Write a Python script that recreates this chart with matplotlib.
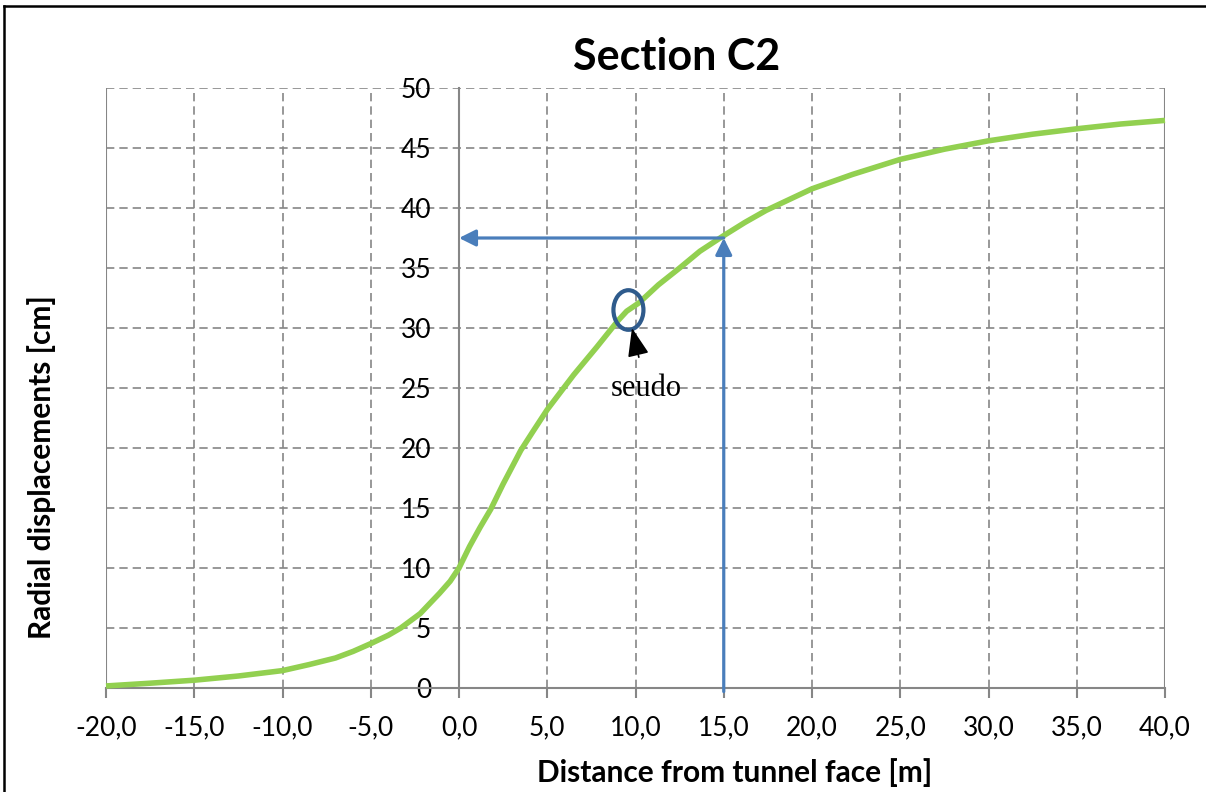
import matplotlib
matplotlib.use('Agg')
import matplotlib.pyplot as plt
from matplotlib.patches import Ellipse
from matplotlib.lines import Line2D

# curve
dist = [-20, -17.5, -15, -12.5, -10, -8.5, -7, -6, -5, -4, -3.3, -2.2, -1.1, -0.5, 0,
        0.6, 1.2, 1.8, 2.5, 3.5, 4.2, 5.0, 6.5, 7.8, 9.0, 9.5, 10.2, 11.3, 12.5,
        13.65, 15, 16.2, 17.4, 18.7, 20, 22.3, 25, 27.5, 30, 32.5, 35, 37.5, 40]
disp = [0.17, 0.4, 0.65, 1.0, 1.45, 1.95, 2.5, 3.05, 3.7, 4.4, 5.0, 6.2, 7.9, 8.9, 10.0,
        11.8, 13.4, 14.9, 17.0, 19.8, 21.4, 23.2, 26.1, 28.4, 30.6, 31.4, 32.1, 33.6, 35.0,
        36.4, 37.7, 38.8, 39.8, 40.7, 41.6, 42.8, 44.05, 44.9, 45.6, 46.15, 46.6, 47.0, 47.3]

x_ticks = [-20, -15, -10, -5, 0, 5, 10, 15, 20, 25, 30, 35, 40]
x_labels = ['-20,0', '-15,0', '-10,0', '-5,0', '0,0', '5,0', '10,0', '15,0',
            '20,0', '25,0', '30,0', '35,0', '40,0']
y_ticks = [0, 5, 10, 15, 20, 25, 30, 35, 40, 45, 50]

x_read = 15
y_read = 37.5
pseudo_x = 9.6
pseudo_y = 31.5

plt.rcParams['font.family'] = ['Lato', 'DejaVu Sans']
grey = '#868686'
blue = '#4a7ebb'

fig = plt.figure(figsize=(12.06, 7.92), dpi=100)
ax = fig.add_axes([106/1206, 1-688/792, (1165-106)/1206, 600/792])
ax.set_xlim(-20, 40)
ax.set_ylim(0, 50)

ax.plot(dist, disp, color='#92d050', lw=4, solid_capstyle='butt',
        solid_joinstyle='round', zorder=3, clip_on=False)

# reading arrows
ax.annotate('', xy=(x_read, y_read), xytext=(x_read, -0.3),
            arrowprops=dict(arrowstyle='-|>,head_length=1.0,head_width=0.5',
                            color=blue, lw=2.3, shrinkA=0, shrinkB=0), zorder=4)
ax.annotate('', xy=(0, y_read), xytext=(x_read, y_read),
            arrowprops=dict(arrowstyle='-|>,head_length=1.0,head_width=0.5',
                            color=blue, lw=2.3, shrinkA=0, shrinkB=0), zorder=4)

ax.add_patch(Ellipse((pseudo_x, pseudo_y), 1.7, 3.3, fill=False,
                     edgecolor='#2f5b8c', lw=3, zorder=5))
ax.annotate('seudo', xy=(9.8, 30.0), xytext=(10.6, 25.0),
            ha='center', va='center', fontsize=22, family='Liberation Serif',
            arrowprops=dict(arrowstyle='-|>,head_length=0.8,head_width=0.3',
                            color='black', lw=1.2, shrinkA=10, shrinkB=0), zorder=6)

# axes: y axis crosses at x = 0
ax.spines['left'].set_position(('data', 0))
ax.spines['top'].set_visible(False)
ax.spines['right'].set_visible(False)
for s in ['left', 'bottom']:
    ax.spines[s].set_color(grey)
    ax.spines[s].set_linewidth(1.5)
ax.axvline(-20, color=grey, lw=1.5, zorder=2)
ax.axvline(40, color=grey, lw=1.5, zorder=2)

ax.set_xticks(x_ticks)
ax.set_xticklabels(x_labels)
ax.set_yticks(y_ticks)
ax.tick_params(axis='x', direction='out', length=7, width=1.5, color=grey,
               labelsize=19, pad=13)
ax.tick_params(axis='y', length=0, labelsize=19, pad=20)
ax.grid(True, color=grey, ls=(0, (5, 3)), lw=1.2)
ax.set_axisbelow(True)

fig.text(677/1206, 1-57/792, 'Section C2', ha='center', va='center',
         fontsize=31, fontweight='bold')
fig.text(735/1206, 1-773/792, 'Distance from tunnel face [m]', ha='center',
         va='center', fontsize=21.5, fontweight='bold')
fig.text(42/1206, 1-467/792, 'Radial displacements [cm]', ha='center',
         va='center', fontsize=21.5, fontweight='bold', rotation=90)

# outer frame
fig.add_artist(Line2D([4/1206, 4/1206], [0, 1-6/792], color='black', lw=1.8,
                      transform=fig.transFigure))
fig.add_artist(Line2D([4/1206, 1], [1-6/792, 1-6/792], color='black', lw=1.8,
                      transform=fig.transFigure))

fig.savefig('out.png', dpi=100)
